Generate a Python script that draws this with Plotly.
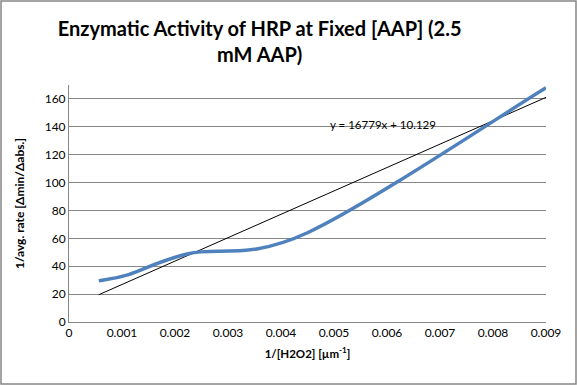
import plotly.graph_objects as go

# Data
inv_h2o2 = [0.0005625, 0.001125, 0.00225, 0.0045, 0.009]
inv_rate = [29.5, 34, 49, 64, 168]
slope = 16779
intercept = 10.129
x_ticks = [0, 0.001, 0.002, 0.003, 0.004, 0.005, 0.006, 0.007, 0.008, 0.009]
x_tick_text = ["0", "0.001", "0.002", "0.003", "0.004", "0.005", "0.006", "0.007", "0.008", "0.009"]

trend_x = [min(inv_h2o2), max(inv_h2o2)]
trend_y = [slope * v + intercept for v in trend_x]

# Excel-style smoothed line: cubic Bezier through the data points
def smooth_path(xs, ys):
    n = len(xs)
    p = list(zip(xs, ys))
    d = f"M {p[0][0]},{p[0][1]}"
    for i in range(n - 1):
        p0 = p[i - 1] if i > 0 else p[i]
        p1 = p[i]
        p2 = p[i + 1]
        p3 = p[i + 2] if i + 2 < n else p[i + 1]
        c1 = (p1[0] + (p2[0] - p0[0]) / 6, p1[1] + (p2[1] - p0[1]) / 6)
        c2 = (p2[0] - (p3[0] - p1[0]) / 6, p2[1] - (p3[1] - p1[1]) / 6)
        d += f" C {c1[0]},{c1[1]} {c2[0]},{c2[1]} {p2[0]},{p2[1]}"
    return d

FONT = "Lato, 'Open Sans', sans-serif"

fig = go.Figure()
fig.add_trace(go.Scatter(
    x=trend_x, y=trend_y, mode="lines",
    line=dict(color="#000000", width=1),
    showlegend=False, hoverinfo="skip"))

fig.add_shape(type="path", xref="x", yref="y", path=smooth_path(inv_h2o2, inv_rate),
              line=dict(color="#4F81BD", width=3.5), layer="above")

fig.add_annotation(x=0.00592, y=142, xref="x", yref="y",
                   text=f"y = {slope}x + {intercept}", showarrow=False,
                   font=dict(family=FONT, size=11.5, color="#000000"))

fig.update_layout(
    width=577, height=385,
    margin=dict(l=69, r=31, t=85, b=63),
    paper_bgcolor="white", plot_bgcolor="white",
    font=dict(family=FONT, size=12, color="#000000"),
    title=dict(text="<b>Enzymatic Activity of HRP at Fixed [AAP] (2.5<br>mM AAP)</b>",
               x=0.45, xanchor="center", y=0.906, yanchor="top",
               font=dict(family=FONT, size=20, color="#000000")),
    xaxis=dict(range=[0, 0.009], tickvals=x_ticks, ticktext=x_tick_text,
               showgrid=False, zeroline=False, showline=True,
               linecolor="#868686", linewidth=1, ticks="",
               tickfont=dict(size=12),
               title=dict(text="<b>1/[H2O2] [µm<sup>-1</sup>]</b>", font=dict(size=11.5), standoff=10)),
    yaxis=dict(range=[0, 170], dtick=20, tick0=0,
               showgrid=True, gridcolor="#868686", gridwidth=1,
               zeroline=False, showline=True, linecolor="#868686", linewidth=1,
               ticks="", tickfont=dict(size=12),
               title=dict(text="<b>1/avg. rate [Δmin/Δabs.]</b>", font=dict(size=12), standoff=17)),
)

# outer chart border
fig.add_shape(type="rect", xref="paper", yref="paper",
              x0=-68/477, x1=1+30/477, y0=-62/237, y1=1+84/237,
              line=dict(color="#868686", width=1.5), layer="below")

fig.write_html("out.html", config={"displayModeBar": False},
               post_script="document.body.style.margin='0';")
